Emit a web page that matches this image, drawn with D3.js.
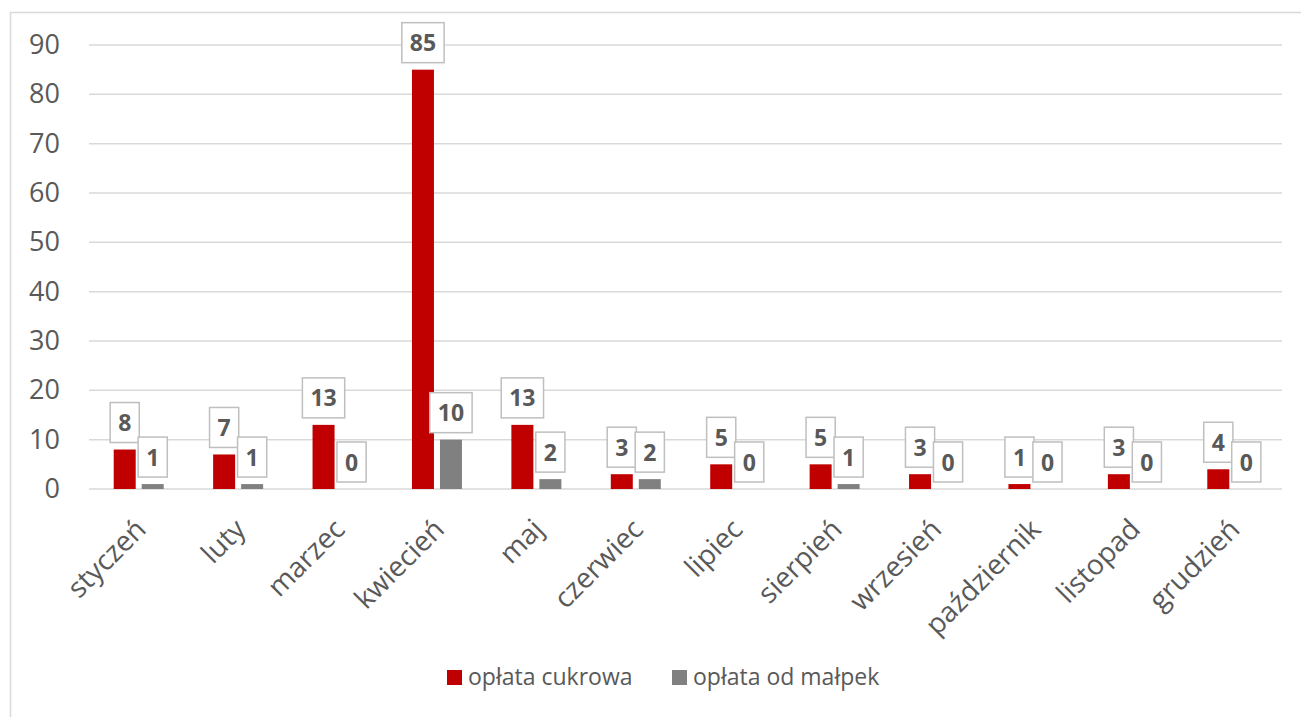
<!DOCTYPE html>
<html>
<head>
<meta charset="utf-8">
<script src="https://cdn.jsdelivr.net/npm/d3@7/dist/d3.min.js"></script>
<style>
  html, body { margin: 0; padding: 0; background: #fff; }
  svg { display: block; font-family: "Open Sans", sans-serif; }
</style>
</head>
<body>
<svg id="chart" width="1301" height="717"></svg>
<script>
// Monthly counts for two levies
const months = ["styczeń", "luty", "marzec", "kwiecień", "maj", "czerwiec",
                "lipiec", "sierpień", "wrzesień", "październik", "listopad", "grudzień"];
const seriesNames = ["opłata cukrowa", "opłata od małpek"];
const sugarFee = [8, 7, 13, 85, 13, 3, 5, 5, 3, 1, 3, 4];
const miniatureFee = [1, 1, 0, 10, 2, 2, 0, 1, 0, 0, 0, 0];
const yTicks = [0, 10, 20, 30, 40, 50, 60, 70, 80, 90];
const colors = ["#c00000", "#808080"];

const svg = d3.select("#chart");
const textColor = "#595959";
const gridColor = "#d9d9d9";

// outer chart frame
svg.append("rect")
  .attr("x", 10.5).attr("y", 12.5)
  .attr("width", 1320).attr("height", 740)
  .attr("fill", "none").attr("stroke", gridColor).attr("stroke-width", 1.5);

const plot = { left: 89, right: 1282, top: 45, bottom: 489 };

const y = d3.scaleLinear().domain([0, 90]).range([plot.bottom, plot.top]);
const x0 = d3.scaleBand().domain(months).range([plot.left, plot.right]);
const x1 = d3.scaleBand().domain(seriesNames).range([-25, 25]).paddingInner(6 / 28);

// gridlines
svg.append("g").selectAll("line").data(yTicks).join("line")
  .attr("x1", plot.left).attr("x2", plot.right)
  .attr("y1", d => y(d)).attr("y2", d => y(d))
  .attr("stroke", gridColor).attr("stroke-width", 1.5);

// y axis labels
const yAxis = d3.axisLeft(y).tickValues(yTicks).tickSize(0).tickPadding(0);
svg.append("g")
  .attr("transform", `translate(60,0)`)
  .call(yAxis)
  .call(g => g.select(".domain").remove())
  .call(g => g.selectAll("text")
    .attr("fill", textColor)
    .attr("font-size", 27)
    .attr("font-family", "'Open Sans', sans-serif"));

// x axis labels, rotated
const xAxis = d3.axisBottom(x0).tickSize(0).tickPadding(0);
svg.append("g")
  .attr("transform", `translate(0,${plot.bottom})`)
  .call(xAxis)
  .call(g => g.select(".domain").remove())
  .call(g => g.selectAll(".tick text")
    .attr("fill", textColor)
    .attr("font-size", 28)
    .attr("font-family", "'Open Sans', sans-serif")
    .attr("text-anchor", "end")
    .attr("dy", null)
    .attr("y", 0)
    .attr("transform", "translate(9,42) rotate(-45)"));

const rows = months.map((m, i) => ({ month: m, values: [sugarFee[i], miniatureFee[i]] }));

const groups = svg.append("g").selectAll("g").data(rows).join("g")
  .attr("transform", d => `translate(${x0(d.month) + x0.bandwidth() / 2},0)`);

// bars
groups.selectAll("rect.bar").data(d => d.values.map((v, j) => ({ v, s: seriesNames[j], j })))
  .join("rect").attr("class", "bar")
  .attr("x", d => x1(d.s))
  .attr("width", x1.bandwidth())
  .attr("y", d => y(d.v))
  .attr("height", d => y(0) - y(d.v))
  .attr("fill", d => colors[d.j]);

// value labels in boxes
const labels = groups.selectAll("g.lbl").data(d => d.values.map((v, j) => ({ v, s: seriesNames[j], j })))
  .join("g").attr("class", "lbl")
  .attr("transform", d => `translate(${x1(d.s) + x1.bandwidth() / 2},${y(d.v) - 7})`);

labels.each(function (d) {
  const g = d3.select(this);
  const box = g.append("rect");
  const t = g.append("text")
    .text(d.v)
    .attr("text-anchor", "middle")
    .attr("font-weight", "bold")
    .attr("font-size", 23)
    .attr("fill", textColor)
    .attr("y", -11.5);
  const w = t.node().getComputedTextLength() + 16;
  box.attr("x", -w / 2).attr("y", -40).attr("width", w).attr("height", 40)
    .attr("fill", "#fff").attr("stroke", "#bfbfbf").attr("stroke-width", 1.5);
});

// legend
const legend = svg.append("g").attr("transform", "translate(447,670)");
const legendX = [0, 225];
seriesNames.forEach((name, j) => {
  const item = legend.append("g").attr("transform", `translate(${legendX[j]},0)`);
  item.append("rect").attr("width", 15).attr("height", 15).attr("fill", colors[j]);
  item.append("text").attr("x", 21).attr("y", 15)
    .attr("font-size", 23).attr("fill", textColor).text(name);
});
</script>
</body>
</html>
